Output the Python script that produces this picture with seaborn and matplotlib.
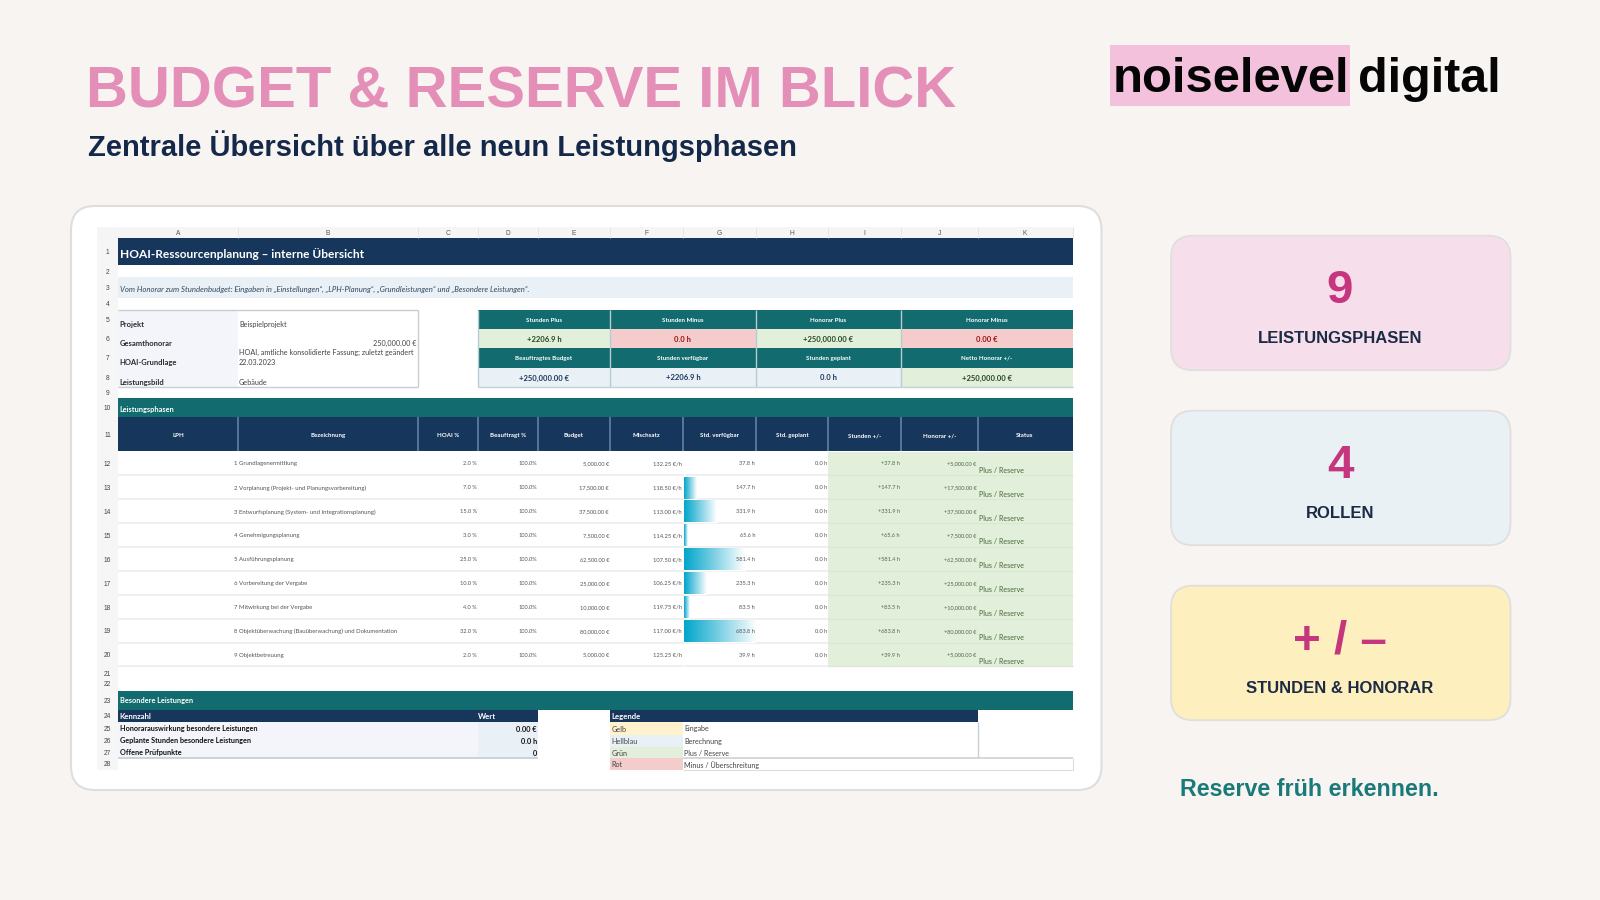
# Folie "Budget & Reserve im Blick" mit der HOAI-Tabelle als Screenshot-Nachbau
import matplotlib
matplotlib.use("Agg")
import matplotlib.pyplot as plt
from matplotlib.colors import LinearSegmentedColormap
from matplotlib.patches import FancyBboxPatch, Rectangle
import numpy as np
import pandas as pd
import seaborn as sns

# Daten der Tabelle
phasen = ["1 Grundlagenermittlung", "2 Vorplanung (Projekt- und Planungsvorbereitung)",
          "3 Entwurfsplanung (System- und Integrationsplanung)", "4 Genehmigungsplanung",
          "5 Ausführungsplanung", "6 Vorbereitung der Vergabe", "7 Mitwirkung bei der Vergabe",
          "8 Objektüberwachung (Bauüberwachung) und Dokumentation", "9 Objektbetreuung"]
hoai_prozent = [2.0, 7.0, 15.0, 3.0, 25.0, 10.0, 4.0, 32.0, 2.0]
beauftragt = [100.0] * 9
budget = [5000, 17500, 37500, 7500, 62500, 25000, 10000, 80000, 5000]
mischsatz = [132.25, 118.50, 113.00, 114.25, 107.50, 106.25, 119.75, 117.00, 125.25]
std_verfuegbar = [37.8, 147.7, 331.9, 65.6, 581.4, 235.3, 83.5, 683.8, 39.9]
std_geplant = [0.0] * 9
status = ["Plus / Reserve"] * 9

spalten = ["A", "B", "C", "D", "E", "F", "G", "H", "I", "J", "K"]
kopf = ["LPH", "Bezeichnung", "HOAI %", "Beauftragt %", "Budget", "Mischsatz", "Std. verfügbar",
        "Std. geplant", "Stunden +/-", "Honorar +/-", "Status"]
kpi_oben = [("Stunden Plus", "+2206.9 h"), ("Stunden Minus", "0.0 h"),
            ("Honorar Plus", "+250,000.00 €"), ("Honorar Minus", "0.00 €")]
kpi_unten = [("Beauftragtes Budget", "+250,000.00 €"), ("Stunden verfügbar", "+2206.9 h"),
             ("Stunden geplant", "0.0 h"), ("Netto Honorar +/-", "+250,000.00 €")]
projekt = [("Projekt", "Beispielprojekt"), ("Gesamthonorar", ""), ("HOAI-Grundlage", "22.03.2023"),
           ("Leistungsbild", "Gebäude")]
kennzahlen = [("Honorarauswirkung besondere Leistungen", "0.00 €"),
              ("Geplante Stunden besondere Leistungen", "0.0 h"), ("Offene Prüfpunkte", "0")]
legende = [("Gelb", "Eingabe"), ("Hellblau", "Berechnung"), ("Grün", "Plus / Reserve"),
           ("Rot", "Minus / Überschreitung")]
karten_zahl = ["9", "4", "+ / –"]
karten_text = ["LEISTUNGSPHASEN", "ROLLEN", "STUNDEN & HONORAR"]

# Layout in Pixeln der Folie
sp = [118.3, 237.7, 417.7, 477.7, 537.7, 610, 683.3, 755.7, 828.3, 900.7, 977.7, 1072.5]
ze = [238, 265, 277.3, 297.7, 310, 329.3, 348.3, 367.7, 386.7, 398.3, 417.3, 451]
z12 = 451.7
zh = 23.9
navy = "#16365C"
teal = "#126B6E"
hblau = "#E9F1F7"
gruen = "#E2EFDA"
rot = "#F4CCCC"
gelb = "#FFF2CC"
hell = "#F3F5FA"
grau = "#333F48"

sns.set_theme(style="white")
plt.rcParams["font.family"] = ["Lato", "DejaVu Sans"]

fig = plt.figure(figsize=(16, 9), dpi=100, facecolor="#F8F4F2")
ax = fig.add_axes([0, 0, 1, 1], zorder=0)
top = fig.add_axes([0, 0, 1, 1], zorder=2)
for a in (ax, top):
    a.set_xlim(0, 1600)
    a.set_ylim(900, 0)
    a.axis("off")
    a.patch.set_alpha(0)


def rect(x0, y0, x1, y1, farbe, z=1):
    ax.add_patch(Rectangle((x0, y0), x1 - x0, y1 - y0, fc=farbe, ec="none", zorder=z))


def linie(x0, y0, x1, y1, farbe, lw=1.0):
    ax.plot([x0, x1], [y0, y1], color=farbe, lw=lw, zorder=3, solid_capstyle="butt")


def txt(x, y, s, px=7.0, farbe=grau, ha="left", fw="normal", fam="Lato", va="center_baseline", **kw):
    top.text(x, y, s, fontsize=px * 0.72, color=farbe, ha=ha, va=va, fontweight=fw, family=fam, **kw)


def karte(x0, y0, x1, y1, farbe, rand, lw, r):
    ax.add_patch(FancyBboxPatch((x0, y0), x1 - x0, y1 - y0, boxstyle=f"round,pad=0,rounding_size={r}",
                                fc=farbe, ec=rand, lw=lw, zorder=0.5))


# Kopfbereich
folie = "Liberation Sans"
txt(85.5, 108, "BUDGET & RESERVE IM BLICK", 58.1, "#E48FB8", fw="bold", fam=folie, va="baseline")
txt(87.5, 156.5, "Zentrale Übersicht über alle neun Leistungsphasen", 29.1, "#14294A", fw="bold", fam=folie, va="baseline")
rect(1110, 45, 1350, 106, "#F3C1DC")
txt(1112.5, 91.5, "noiselevel", 49, "#050505", fw="bold", fam=folie, va="baseline")
txt(1358, 91.5, "digital", 48.5, "#050505", fw="bold", fam=folie, va="baseline")

# Weisse Karte
karte(71, 206, 1101.5, 790, "white", "#DEDEDE", 1.5, 24)

# Kartenreihe rechts
kart_y = [235.7, 410.7, 585.7]
kart_farbe = ["#F6DFEB", "#E9F1F4", "#FDEFBE"]
for y0, f, zahl, t in zip(kart_y, kart_farbe, karten_zahl, karten_text):
    karte(1171, y0, 1510.5, y0 + 134.5, f, "#DFDFDF", 1.3, 22)
    txt(1340, y0 + 67.5, zahl, 47.5, "#C5367F", ha="center", fw="bold", fam=folie, va="baseline")
    txt(1340, y0 + 107.5, t, 16.6, "#1C2B45", ha="center", fw="bold", fam=folie, va="baseline")
txt(1180.5, 796.5, "Reserve früh erkennen.", 23.2, "#1A7A7A", fw="bold", fam=folie, va="baseline")

# Tabellengitter: Zeilenkoepfe und Spaltenkoepfe
rect(97, 227, 118.3, 770, "#F6F6F6")
rect(97, 227, sp[-1], 237.7, "#F5F5F5")
for i, s in enumerate(spalten):
    txt((sp[i] + sp[i + 1]) / 2, 232.5, s, 6.6, "#555555", ha="center", fam="Liberation Sans")
    linie(sp[i + 1], 227, sp[i + 1], 237.7, "#E2E2E2", 0.6)
zeilen_mitte = [(ze[i] + ze[i + 1]) / 2 for i in range(len(ze) - 1)]
zeilen_mitte += [z12 + zh * (i + 0.5) for i in range(9)]
zeilen_mitte += [673, 684, 700.3, 716, 728.5, 740.7, 752.5, 764]
for i, y in enumerate(zeilen_mitte):
    txt(107.5, y, str(i + 1), 6.6, "#444444", ha="center", fam="Liberation Sans")

# Titelzeile und Hinweis
rect(sp[0], ze[0], sp[-1], ze[1], navy)
txt(119.5, 253, "HOAI-Ressourcenplanung – interne Übersicht", 11.9, "white", fw="bold")
rect(sp[0], ze[2], sp[-1], ze[3], hblau)
txt(119.5, 288.5, "Vom Honorar zum Stundenbudget: Eingaben in „Einstellungen“, „LPH-Planung“, „Grundleistungen“ und „Besondere Leistungen“.",
    7.75, "#33475B", style="italic")

# Projektblock
rect(sp[0], ze[4], sp[1], ze[8], hell)
for (a_, b_), y in zip(projekt, [324, 343, 362.3, 381.7]):
    txt(119.5, y, a_, 7.6, "#2B2B2B", fw="bold")
    txt(239, y, b_, 7.3, "#444444")
txt(416.5, 343, "250,000.00 €", 7.3, "#444444", ha="right")
txt(239, 351.7, "HOAI, amtliche konsolidierte Fassung; zuletzt geändert", 7.3, "#444444")
for x0, y0, x1, y1 in [(sp[0], ze[4], sp[2], ze[4]), (sp[0], ze[8], sp[2], ze[8]), (sp[2], ze[4], sp[2], ze[8])]:
    linie(x0, y0, x1, y1, "#C8CDD3", 1.0)

# KPI-Bloecke
kpi_x = [sp[3], sp[5], sp[7], sp[9], sp[11]]
kpi_f_oben = [gruen, rot, gruen, rot]
kpi_t_oben = ["#22461F", "#9C0F12", "#22461F", "#9C0F12"]
kpi_f_unten = [hblau, hblau, hblau, gruen]
kpi_t_unten = [navy, navy, navy, "#22461F"]
for i in range(4):
    x0, x1 = kpi_x[i], kpi_x[i + 1]
    xm = (x0 + x1) / 2
    rect(x0, ze[4], x1, ze[5], teal)
    rect(x0, ze[5], x1, ze[6], kpi_f_oben[i])
    rect(x0, ze[6], x1, ze[7], teal)
    rect(x0, ze[7], x1, ze[8], kpi_f_unten[i])
    txt(xm, 319.5, kpi_oben[i][0], 6.1, "white", ha="center", fw="bold")
    txt(xm, 339, kpi_oben[i][1], 7.7, kpi_t_oben[i], ha="center", fw="bold")
    txt(xm, 358, kpi_unten[i][0], 6.1, "white", ha="center", fw="bold")
    txt(xm, 377.5, kpi_unten[i][1], 7.7, kpi_t_unten[i], ha="center", fw="bold")
    if i > 0:
        linie(x0, ze[4], x0, ze[8], "#B6CCD2", 1.0)
linie(sp[3], ze[8], sp[-1], ze[8], "#C3D0D6", 1.0)
linie(sp[3], ze[4], sp[3], ze[8], "#B6CCD2", 1.0)

# Abschnitt Leistungsphasen
rect(sp[0], ze[9], sp[-1], ze[10], teal)
txt(119.5, 409, "Leistungsphasen", 7.4, "white", fw="bold")
rect(sp[0], ze[10], sp[-1], ze[11], navy)
for i, k in enumerate(kopf):
    txt((sp[i] + sp[i + 1]) / 2, 435, k, 6.1, "white", ha="center", fw="bold")
    if i > 0:
        linie(sp[i], ze[10], sp[i], ze[11], "#5D82A8", 1.2)

# Zeilen 12 bis 20
rect(sp[8], z12, sp[-1], z12 + 9 * zh, gruen)
for i in range(9):
    y = z12 + zh * (i + 0.5) - 0.2
    unten = z12 + zh * (i + 1) - 0.4
    linie(sp[0], unten, sp[8], unten, "#EFEFEF", 1.4)
    linie(sp[8], unten, sp[-1], unten, "#DCE8D5", 1.0)
    txt(234, y, phasen[i], 6.0, "#555555")
    txt(476.7, y, f"{hoai_prozent[i]:.1f} %", 5.7, "#555555", ha="right")
    txt(536.7, y, f"{beauftragt[i]:.1f}%", 5.7, "#555555", ha="right")
    txt(609, y, f"{budget[i]:,.2f} €", 5.6, "#555555", ha="right")
    txt(681.7, y, f"{mischsatz[i]:.2f} €/h", 5.8, "#555555", ha="right")
    txt(755, y, f"{std_verfuegbar[i]:.1f} h", 5.7, "#555555", ha="right")
    txt(827.3, y, f"{std_geplant[i]:.1f} h", 5.7, "#555555", ha="right")
    txt(900, y, f"+{std_verfuegbar[i]:.1f} h", 5.7, "#4F6B47", ha="right")
    txt(976.7, y, f"+{budget[i]:,.2f} €", 5.6, "#4F6B47", ha="right")
    txt(979, y + 6.3, status[i], 7.1, "#47693A")

# Datenbalken in Spalte G: Skala laeuft wie in Excel vom kleinsten zum groessten Wert
df = pd.DataFrame({"phase": phasen, "stunden": std_verfuegbar})
bar_ax = fig.add_axes([sp[6] / 1600 + 0.0002, 1 - (z12 + 9 * zh) / 900, (sp[7] - sp[6]) / 1600, 9 * zh / 900], zorder=1)
bar_ax.patch.set_alpha(0)
sns.barplot(data=df, x="stunden", y="phase", orient="h", width=0.92, color="#00A8CC", ax=bar_ax)
x_min, x_max = min(std_verfuegbar), max(std_verfuegbar)
verlauf = LinearSegmentedColormap.from_list("balken", ["#00A6CB", "#7FD0E4", "#FFFFFF"])
for p in bar_ax.patches:
    ende = p.get_width()
    p.set_facecolor("none")
    # unter einem Pixel sieht man im Original keinen Balken
    if ende - x_min < 5:
        continue
    bild = bar_ax.imshow(np.linspace(0, 1, 128).reshape(1, -1), cmap=verlauf, aspect="auto",
                         extent=(x_min, ende, p.get_y() + p.get_height(), p.get_y()), zorder=2)
    bild.set_clip_path(p)
bar_ax.set_xlim(x_min, x_max)
bar_ax.set_ylim(8.5, -0.5)
bar_ax.axis("off")

# Besondere Leistungen und Legende
rect(sp[0], 690.7, sp[-1], 710, teal)
txt(119.5, 700.5, "Besondere Leistungen", 7.4, "white", fw="bold")
rect(sp[0], 710, sp[4], 722.3, navy)
txt(119.5, 716.3, "Kennzahl", 7.8, "white", fw="bold")
txt(478, 716.3, "Wert", 7.8, "white", fw="bold")
rect(sp[0], 722.3, sp[3], 758.3, hell)
rect(sp[3], 722.3, sp[4], 758.3, hblau)
for (k, w), y in zip(kennzahlen, [728.5, 740.5, 752.5]):
    txt(119.5, y, k, 7.3, "#111111", fw="bold")
    txt(537, y, w, 7.4, "#111111", ha="right", fw="bold")
linie(sp[0], 758.3, sp[4], 758.3, "#C3CBD3", 1.2)

rect(sp[5], 710, sp[10], 722.3, navy)
txt(611.5, 716.3, "Legende", 7.8, "white", fw="bold")
leg_farben = [gelb, hblau, gruen, rot]
leg_y = [722.3, 734.7, 746.7, 758.3, 770]
for i in range(4):
    rect(sp[5], leg_y[i], sp[6], leg_y[i + 1], leg_farben[i])
    txt(611.5, (leg_y[i] + leg_y[i + 1]) / 2, legende[i][0], 7.3, "#444444")
    txt(684, (leg_y[i] + leg_y[i + 1]) / 2, legende[i][1], 7.2, "#444444")
linie(sp[10], 722.3, sp[10], 758.3, "#C9CFD5", 1.0)
linie(sp[6], 758.3, sp[-1], 758.3, "#CDD2D6", 1.2)
linie(sp[6], 770, sp[-1], 770, "#DDDDDD", 0.8)
linie(sp[-1], 758.3, sp[-1], 770, "#DDDDDD", 0.8)

fig.savefig("out.png", dpi=100, facecolor=fig.get_facecolor())
